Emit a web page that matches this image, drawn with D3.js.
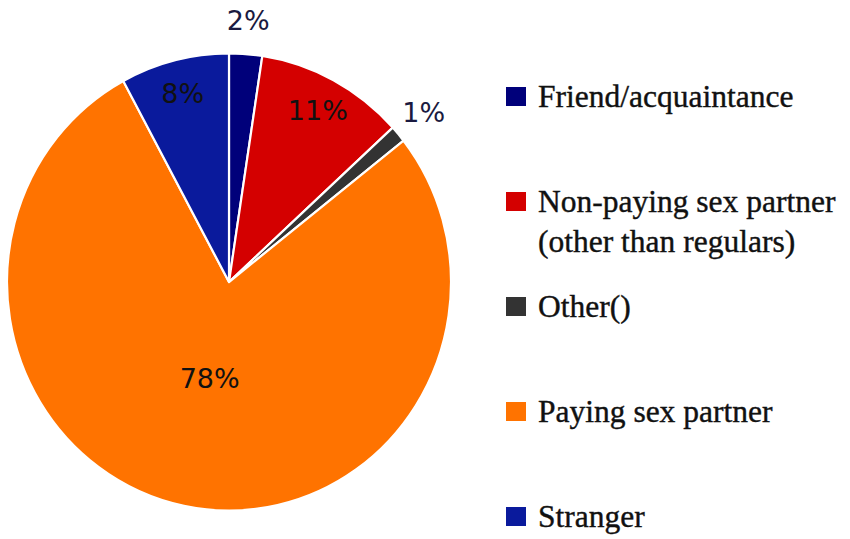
<!DOCTYPE html>
<html>
<head>
<meta charset="utf-8">
<script src="https://cdn.jsdelivr.net/npm/d3@7"></script>
<style>
  html, body { margin: 0; padding: 0; background: #fff; }
  svg { display: block; }
</style>
</head>
<body>
<svg id="chart" width="850" height="539"></svg>
<script>
// Data
const categories = ["Friend/acquaintance", "Non-paying sex partner (other than regulars)", "Other()", "Paying sex partner", "Stranger"];
const legendLines = [["Friend/acquaintance"], ["Non-paying sex partner", "(other than regulars)"], ["Other()"], ["Paying sex partner"], ["Stranger"]];
const values = [2.4, 10.8, 1.2, 77.7, 7.9];
const labels = ["2%", "11%", "1%", "78%", "8%"];
const colors = ["#00007a", "#d40000", "#333333", "#ff7300", "#0a1a9c"];

const svg = d3.select("#chart");
const cx = 229, cy = 282, r = 222, sy = 1.03;

const data = categories.map((c, i) => ({ cat: c, value: values[i], label: labels[i], color: colors[i], lines: legendLines[i] }));

const pie = d3.pie().sort(null).value(d => d.value);
const arcs = pie(data);
const arc = d3.arc().innerRadius(0).outerRadius(r);

const g = svg.append("g").attr("transform", `translate(${cx},${cy}) scale(1,${sy})`);

g.selectAll("path.slice")
  .data(arcs)
  .join("path")
  .attr("class", "slice")
  .attr("d", arc)
  .attr("fill", d => d.data.color)
  .attr("stroke", "#fff")
  .attr("stroke-width", 2.2)
  .attr("stroke-linejoin", "round");

// label radius depends on slice size: tiny slices outside, big slice nearer centre
function labelRadius(d) {
  const frac = (d.endAngle - d.startAngle) / (2 * Math.PI);
  if (frac < 0.05) return r * 1.15;
  if (frac > 0.5) return r * 0.43;
  return r * 0.85;
}

const lblG = svg.append("g").attr("transform", `translate(${cx},${cy})`);
lblG.selectAll("text.lbl")
  .data(arcs)
  .join("text")
  .attr("class", "lbl")
  .attr("transform", d => {
    const lr = labelRadius(d);
    const c = d3.arc().innerRadius(lr).outerRadius(lr).centroid(d);
    return `translate(${c[0]},${c[1] * sy})`;
  })
  .attr("text-anchor", "middle")
  .attr("dy", "0.36em")
  .attr("font-family", "DejaVu Sans, Verdana, sans-serif")
  .attr("font-size", 27)
  .attr("fill", d => (d.data.value < 5 ? "#1a1a40" : "#111"))
  .text(d => d.data.label);

// Legend
const legendY = d3.scalePoint().domain(categories).range([96, 516]);
const lg = svg.append("g");
const items = lg.selectAll("g.item")
  .data(data)
  .join("g")
  .attr("class", "item")
  .attr("transform", d => `translate(506,${legendY(d.cat)})`);

items.append("rect")
  .attr("x", 0).attr("y", -9)
  .attr("width", 20).attr("height", 19)
  .attr("fill", d => d.color);

items.append("text")
  .attr("x", 32)
  .attr("font-family", "Liberation Serif, Times New Roman, serif")
  .attr("font-size", 31.5)
  .attr("fill", "#111")
  .attr("stroke", "#111")
  .attr("stroke-width", 0.4)
  .selectAll("tspan")
  .data(d => d.lines)
  .join("tspan")
  .attr("x", 32)
  .attr("y", (l, i) => i * 40)
  .attr("dy", "0.34em")
  .text(l => l);
</script>
</body>
</html>
